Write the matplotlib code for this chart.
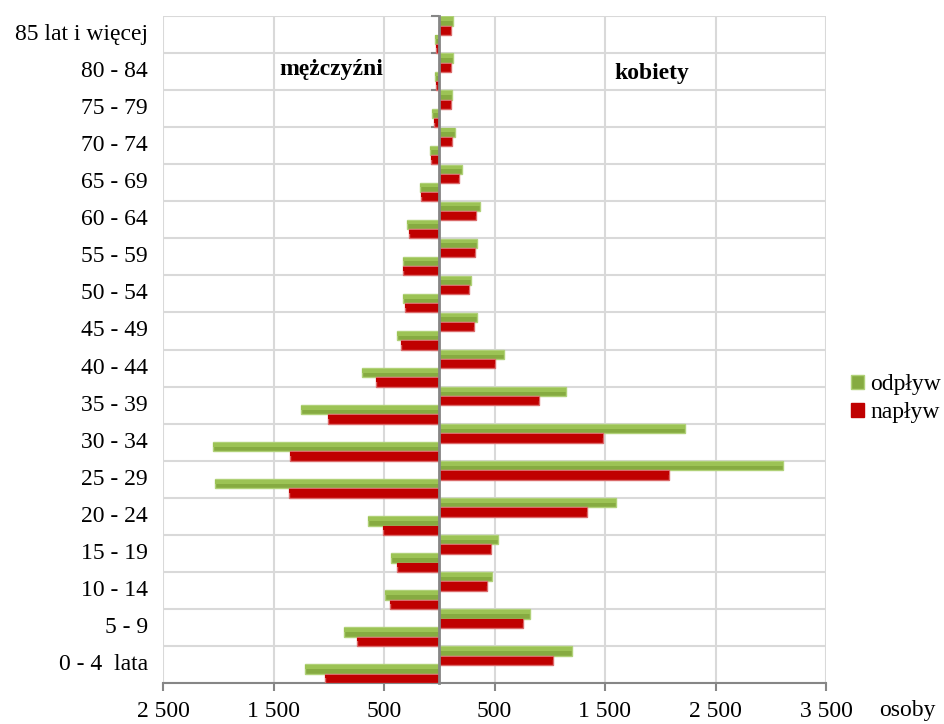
import matplotlib.pyplot as plt
import numpy as np
from matplotlib.patches import Patch
from matplotlib.ticker import FixedLocator, FuncFormatter

plt.rcParams["font.family"] = ["Liberation Serif", "DejaVu Serif"]

# age groups, bottom to top
ages = ["0 - 4  lata", "5 - 9", "10 - 14", "15 - 19", "20 - 24", "25 - 29",
        "30 - 34", "35 - 39", "40 - 44", "45 - 49", "50 - 54", "55 - 59",
        "60 - 64", "65 - 69", "70 - 74", "75 - 79", "80 - 84", "85 lat i więcej"]

women_out = [1200, 825, 480, 530, 1600, 3115, 2220, 1145, 590, 345, 285, 340,
             370, 205, 140, 115, 125, 125]
women_in = [1025, 760, 435, 470, 1340, 2080, 1480, 900, 500, 315, 265, 320,
            335, 175, 118, 105, 108, 108]
men_out = [1215, 865, 490, 440, 645, 2030, 2045, 1255, 695, 385, 325, 330,
           290, 172, 87, 63, 42, 42]
men_in = [1030, 745, 445, 385, 507, 1360, 1350, 1005, 575, 350, 308, 325,
          275, 163, 72, 51, 33, 30]

xticks = [-2500, -1500, -500, 500, 1500, 2500, 3500]

GREEN, GREEN_LT, GREEN_EDGE = "#86AB41", "#9CC355", "#B0D178"
RED, RED_LT, RED_EDGE = "#C00000", "#C00000", "#DA6A6A"
FS = 17

fig = plt.figure(figsize=(9.44, 7.24), dpi=100)
ax = fig.add_axes([163 / 944, 1 - 683 / 724, 663 / 944, 667 / 724])

y = np.arange(len(ages))
h = 0.25


def bars(vals, offset, face, light, edge):
    ax.barh(y + offset, vals, height=h, color=face, edgecolor=edge,
            linewidth=1.0, zorder=3)
    # lighter upper half for the bevelled look
    ax.barh(y + offset + h * 0.2, vals, height=h * 0.4, color=light,
            linewidth=0, zorder=4)


bars(women_out, 0.365, GREEN, GREEN_LT, GREEN_EDGE)
bars(women_in, 0.115, RED, RED_LT, RED_EDGE)
bars(-np.array(men_out), -0.125, GREEN, GREEN_LT, GREEN_EDGE)
bars(-np.array(men_in), -0.375, RED, RED_LT, RED_EDGE)

ax.set_xlim(-2500, 3500)
ax.set_ylim(-0.5, len(ages) - 0.5)
ax.xaxis.set_major_locator(FixedLocator(xticks))
ax.xaxis.set_major_formatter(FuncFormatter(lambda v, p: f"{abs(int(v)):,}".replace(",", " ")))
ax.set_yticks(np.arange(-0.5, len(ages), 1.0))
ax.tick_params(axis="y", labelleft=False, direction="out", length=6,
               color="#868686", width=1.5)
ax.tick_params(axis="x", direction="out", length=6, color="#868686",
               width=1.5, labelsize=FS, pad=7)
ax.grid(True, color="#D9D9D9", lw=1.5)
ax.set_axisbelow(True)

for s in ["top", "right"]:
    ax.spines[s].set_visible(False)
ax.spines["left"].set_position(("data", 0))
ax.spines["left"].set_color("#868686")
ax.spines["left"].set_linewidth(2)
ax.spines["left"].set_zorder(5)
ax.spines["bottom"].set_color("#868686")
ax.spines["bottom"].set_linewidth(1.5)

for i, lab in enumerate(ages):
    ax.text(-0.023, i, lab, transform=ax.get_yaxis_transform(),
            ha="right", va="center", fontsize=FS)

ax.text(-980, 16.05, "mężczyźni", fontsize=FS, weight="bold",
        ha="center", va="center")
ax.text(1925, 15.95, "kobiety", fontsize=FS, weight="bold",
        ha="center", va="center")

fig.text(0.931, 0.018, "osoby", fontsize=FS, ha="left", va="center")

handles = [Patch(facecolor=GREEN, edgecolor=GREEN_EDGE),
           Patch(facecolor=RED, edgecolor=RED)]
fig.legend(handles, ["odpływ", "napływ"], loc="center left",
           bbox_to_anchor=(0.901, 0.449), frameon=False, fontsize=FS,
           handlelength=0.55, handleheight=0.55, handletextpad=0.3,
           labelspacing=0.3, borderpad=0, borderaxespad=0)

fig.savefig("out.png", dpi=100)
